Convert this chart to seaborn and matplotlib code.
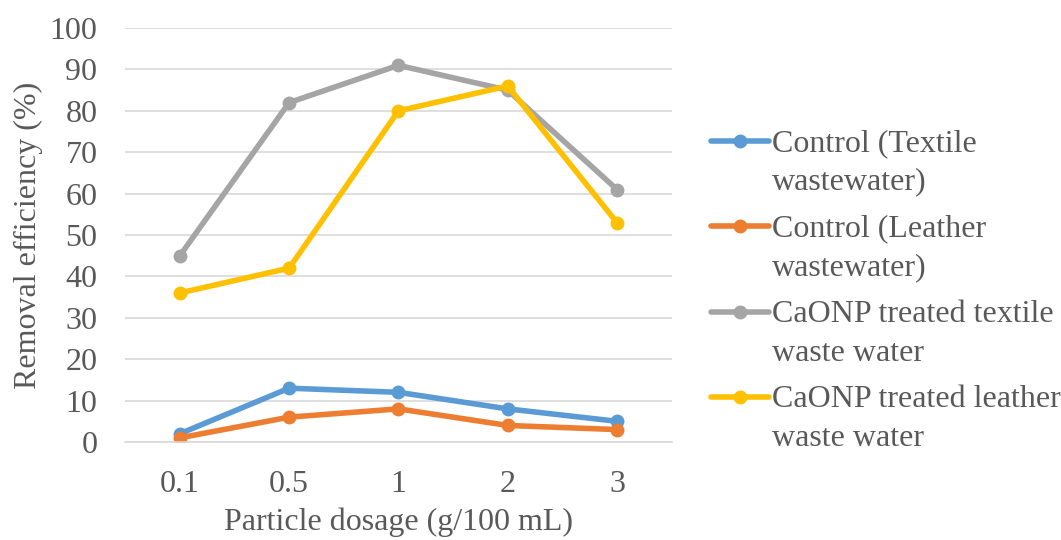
import matplotlib
matplotlib.use("Agg")
import matplotlib.pyplot as plt
import seaborn as sns
import pandas as pd
import numpy as np
from matplotlib.lines import Line2D
from matplotlib.legend_handler import HandlerLine2D

dosage = ["0.1", "0.5", "1", "2", "3"]
control_textile = [2, 13, 12, 8, 5]
control_leather = [1, 6, 8, 4, 3]
caonp_textile = [45, 82, 91, 85, 61]
caonp_leather = [36, 42, 80, 86, 53]
series_names = ["Control (Textile\nwastewater)", "Control (Leather\nwastewater)",
                "CaONP treated textile\nwaste water", "CaONP treated leather\nwaste water"]
colors = ["#5B9BD5", "#ED7D31", "#A5A5A5", "#FFC000"]

rows = []
for name, vals in zip(series_names, [control_textile, control_leather, caonp_textile, caonp_leather]):
    for d, v in zip(dosage, vals):
        rows.append({"dosage": d, "value": v, "series": name})
df = pd.DataFrame(rows)

sns.set_theme(style="white")
plt.rcParams['font.family'] = ['Liberation Serif', 'DejaVu Serif']
text_color = "#595959"
FS = 23
LSP = 1.45


class FirstLineHandler(HandlerLine2D):
    def create_artists(self, legend, orig_handle, xdescent, ydescent, width, height, fontsize, trans):
        artists = super().create_artists(legend, orig_handle, xdescent, ydescent,
                                         width, height, fontsize, trans)
        for a in artists:
            a.set_ydata(np.asarray(a.get_ydata(), dtype=float) + 0.68 * fontsize)
        return artists


fig = plt.figure(figsize=(10.61, 5.40), dpi=100)
ax = fig.add_axes([0.118, 0.1815, 0.515, 0.7665])

sns.lineplot(data=df, x="dosage", y="value", hue="series", palette=colors,
             marker="o", markersize=10, markeredgewidth=0, linewidth=4,
             sort=False, ax=ax)

ax.set_ylim(0, 100)
ax.set_xlim(-0.5, 4.5)
ax.set_yticks(range(0, 101, 10))
ax.yaxis.grid(True, color="#D9D9D9", linewidth=1.2)
ax.set_axisbelow(True)
for s in ["top", "right", "left"]:
    ax.spines[s].set_visible(False)
ax.spines["bottom"].set_color("#D9D9D9")
ax.spines["bottom"].set_linewidth(1.2)
ax.tick_params(axis="both", length=0, labelsize=FS, colors=text_color, pad=20)
ax.set_xlabel("Particle dosage (g/100 mL)", fontsize=FS, color=text_color, labelpad=6)
ax.set_ylabel("Removal efficiency (%)", fontsize=FS, color=text_color, labelpad=5)

handles, labels = ax.get_legend_handles_labels()
leg = ax.legend(handles, labels, loc="center left", bbox_to_anchor=(1.02, 0.365), frameon=False,
                fontsize=FS, handlelength=1.8, handletextpad=0.1, labelspacing=0.55,
                labelcolor=text_color, handler_map={Line2D: FirstLineHandler()})
for t in leg.get_texts():
    t.set_linespacing(LSP)

fig.savefig("out.png", dpi=100)
